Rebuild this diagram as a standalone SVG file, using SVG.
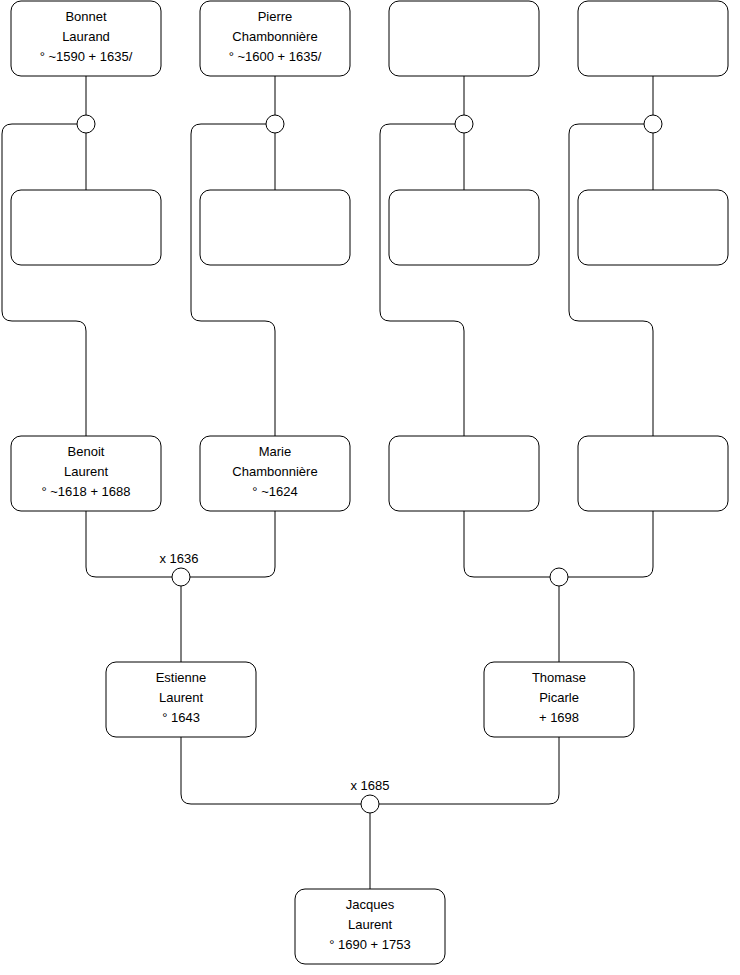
<svg xmlns="http://www.w3.org/2000/svg" width="740" height="975" viewBox="0 0 740 975">
<style>
.n{fill:#fff;stroke:#000;stroke-width:1}
.c{fill:none;stroke:#000;stroke-width:1}
.j{fill:#fff;stroke:#000;stroke-width:1}
text{font-family:"Liberation Sans",Arial,sans-serif;font-size:13px;fill:#000;text-anchor:middle}
</style>
<rect width="740" height="975" fill="#fff"/>
<g id="connectors">
<path class="c" d="M86,76V115M86,133V190M77,124H12Q2,124 2,134V311Q2,321 12,321H76Q86,321 86,331V436"/>
<path class="c" d="M275,76V115M275,133V190M266,124H201Q191,124 191,134V311Q191,321 201,321H265Q275,321 275,331V436"/>
<path class="c" d="M464,76V115M464,133V190M455,124H390Q380,124 380,134V311Q380,321 390,321H454Q464,321 464,331V436"/>
<path class="c" d="M653,76V115M653,133V190M644,124H579Q569,124 569,134V311Q569,321 579,321H643Q653,321 653,331V436"/>
<path class="c" d="M86,511V567Q86,577 96,577H172M275,511V567Q275,577 265,577H190M181,586V662"/>
<path class="c" d="M464,511V567Q464,577 474,577H550M653,511V567Q653,577 643,577H568M559,586V662"/>
<path class="c" d="M181,737V794Q181,804 191,804H361M559,737V794Q559,804 549,804H379M370,813V889"/>
</g>
<g id="j1"><circle class="j" cx="86" cy="124" r="9"/></g>
<g id="j2"><circle class="j" cx="275" cy="124" r="9"/></g>
<g id="j3"><circle class="j" cx="464" cy="124" r="9"/></g>
<g id="j4"><circle class="j" cx="653" cy="124" r="9"/></g>
<g id="j5"><circle class="j" cx="181" cy="577" r="9"/><text x="179" y="563">x 1636</text></g>
<g id="j6"><circle class="j" cx="559" cy="577" r="9"/></g>
<g id="j7"><circle class="j" cx="370" cy="804" r="9"/><text x="370" y="790">x 1685</text></g>
<g id="bonnet"><rect class="n" x="11" y="1" width="150" height="75" rx="10"/><text x="86" y="20.5">Bonnet</text><text x="86" y="40.5">Laurand</text><text x="86" y="60.5">° ~1590 + 1635/</text></g>
<g id="pierre"><rect class="n" x="200" y="1" width="150" height="75" rx="10"/><text x="275" y="20.5">Pierre</text><text x="275" y="40.5">Chambonnière</text><text x="275" y="60.5">° ~1600 + 1635/</text></g>
<g id="top3"><rect class="n" x="389" y="1" width="150" height="75" rx="10"/></g>
<g id="top4"><rect class="n" x="578" y="1" width="150" height="75" rx="10"/></g>
<g id="mid1"><rect class="n" x="11" y="190" width="150" height="75" rx="10"/></g>
<g id="mid2"><rect class="n" x="200" y="190" width="150" height="75" rx="10"/></g>
<g id="mid3"><rect class="n" x="389" y="190" width="150" height="75" rx="10"/></g>
<g id="mid4"><rect class="n" x="578" y="190" width="150" height="75" rx="10"/></g>
<g id="benoit"><rect class="n" x="11" y="436" width="150" height="75" rx="10"/><text x="86" y="455.5">Benoit</text><text x="86" y="475.5">Laurent</text><text x="86" y="495.5">° ~1618 + 1688</text></g>
<g id="marie"><rect class="n" x="200" y="436" width="150" height="75" rx="10"/><text x="275" y="455.5">Marie</text><text x="275" y="475.5">Chambonnière</text><text x="275" y="495.5">° ~1624</text></g>
<g id="n3"><rect class="n" x="389" y="436" width="150" height="75" rx="10"/></g>
<g id="n4"><rect class="n" x="578" y="436" width="150" height="75" rx="10"/></g>
<g id="estienne"><rect class="n" x="106" y="662" width="150" height="75" rx="10"/><text x="181" y="681.5">Estienne</text><text x="181" y="701.5">Laurent</text><text x="181" y="721.5">° 1643</text></g>
<g id="thomase"><rect class="n" x="484" y="662" width="150" height="75" rx="10"/><text x="559" y="681.5">Thomase</text><text x="559" y="701.5">Picarle</text><text x="559" y="721.5">+ 1698</text></g>
<g id="jacques"><rect class="n" x="295" y="889" width="150" height="75" rx="10"/><text x="370" y="909">Jacques</text><text x="370" y="929">Laurent</text><text x="370" y="949">° 1690 + 1753</text></g>
</svg>
